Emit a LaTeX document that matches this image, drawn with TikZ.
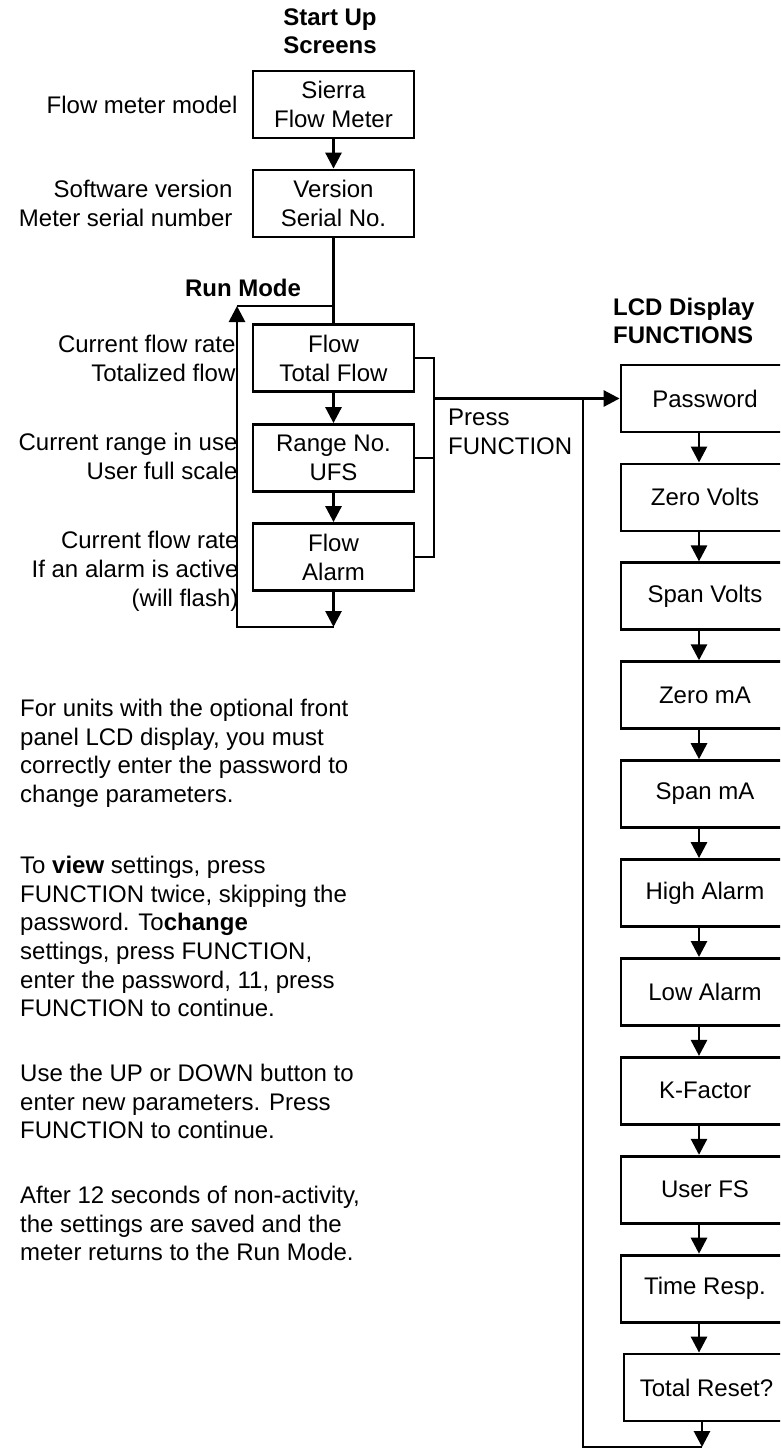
\documentclass[tikz,border=0pt]{standalone}
\usepackage{fontspec}
\setmainfont{Liberation Sans}
\usepackage{tikz}
\usetikzlibrary{positioning,arrows.meta}

\begin{document}
\begin{tikzpicture}[
    x=1pt, y=-1pt,
    every node/.style={font=\fontsize{24}{29}\selectfont},
    screenbox/.style={rectangle, draw=black, line width=2.8pt, align=center, minimum width=161pt, minimum height=67pt, inner sep=0pt},
    fnbox/.style={rectangle, draw=black, line width=2.8pt, minimum width=168pt, minimum height=67pt, inner sep=0pt},
    note/.style={align=right, inner sep=0pt},
    para/.style={align=left, anchor=north west, inner sep=0pt, font=\fontsize{24}{28.6}\selectfont},
    heading/.style={font=\fontsize{24}{28.5}\selectfont\bfseries, inner sep=0pt},
    flowline/.style={draw=black, line width=2.8pt},
    arrowline/.style={->, >={Triangle[width=16pt,length=16pt]}, draw=black, line width=2.8pt}
    ]
        \useasboundingbox (0,0) rectangle (780,1450);
        \clip (0,0) rectangle (780,1450);

        %Headings
        \node[heading, align=center] (startup) at (330,31) {Start Up\\Screens};
        \node[heading] (runmode) at (243,288) {Run Mode};
        \node[heading, align=left, anchor=west] (lcdhead) at (613,321) {LCD Display\\FUNCTIONS};

        %Start up and run mode screens
        \node[screenbox] (sierra) at (333.5,104.5) {Sierra\\Flow Meter};
        \node[screenbox, below=29.2pt of sierra] (version) {Version\\Serial No.};
        \node[screenbox] (flow) at (333.5,358) {Flow\\Total Flow};
        \node[screenbox, below=30.2pt of flow] (range) {Range No.\\UFS};
        \node[screenbox, below=29.2pt of range] (alarm) {Flow\\Alarm};

        %Notes beside the screens
        \node[note, left=14pt of sierra] (lblmodel) {Flow meter model};
        \node[note, left=19pt of version] (lblversion) {Software version\\Meter serial number};
        \node[note, left=16pt of flow] (lblflow) {Current flow rate\\Totalized flow};
        \node[note, left=14pt of range, yshift=2pt] (lblrange) {Current range in use\\User full scale};
        \node[note, left=13pt of alarm, yshift=-14pt] (lblalarm) {Current flow rate\\If an alarm is active\\(will flash)};

        \node[align=left, anchor=west, inner sep=0pt] (press) at (448,432) {Press\\FUNCTION};

        %Function screens
        \node[fnbox] (pw) at (705,398.5) {Password};
        \node[fnbox, below=29.1pt of pw] (zv) {Zero Volts};
        \node[fnbox, below=29.1pt of zv] (sv) {Span Volts};
        \node[fnbox, below=29.1pt of sv] (zma) {Zero mA};
        \node[fnbox, below=29.1pt of zma] (sma) {Span mA};
        \node[fnbox, below=29.1pt of sma] (hia) {High Alarm};
        \node[fnbox, below=29.1pt of hia] (loa) {Low Alarm};
        \node[fnbox, below=29.1pt of loa] (kf) {K-Factor};
        \node[fnbox, below=29.1pt of kf] (ufs) {User FS};
        \node[fnbox, below=29.1pt of ufs] (tr) {Time Resp.};
        \node[fnbox, minimum width=165pt, below=29.1pt of tr, xshift=1.5pt] (reset) {Total Reset?};

        %Text
        \node[para] (p1) at (20,699) {For units with the optional front\\panel LCD display, you must\\correctly enter the password to\\change parameters.};
        \node[para] (p2) at (20,856) {To \textbf{view} settings, press\\FUNCTION twice, skipping the\\password.  To\textbf{change}\\settings, press FUNCTION,\\enter the password, 11, press\\FUNCTION to continue.};
        \node[para] (p3) at (20,1064) {Use the UP or DOWN button to\\enter new parameters.  Press\\FUNCTION to continue.};
        \node[para] (p4) at (20,1186) {After 12 seconds of non-activity,\\the settings are saved and the\\meter returns to the Run Mode.};

        %Lines
        \coordinate (loopbot) at (237,627);
        \coordinate (looptop) at (237,306);
        \coordinate (brk) at (434,398.5);
        \coordinate (fnloop) at (583,1447);

        \draw[arrowline] (sierra) -- (version);
        \draw[flowline] (version) -- (flow);
        \draw[arrowline] (flow) -- (range);
        \draw[arrowline] (range) -- (alarm);

        \draw[arrowline] (alarm.south) -- (alarm.south |- loopbot);
        \draw[arrowline] (alarm.south |- loopbot) -- (loopbot) -- (looptop);
        \draw[flowline] (looptop) -- (version.south |- looptop);

        \draw[flowline] (flow.east) -| (alarm.east -| brk) -- (alarm.east);
        \draw[flowline] (range.east) -- (range.east -| brk);
        \draw[arrowline] (brk) -- (pw.west);

        \foreach \a/\b in {pw/zv, zv/sv, sv/zma, zma/sma, sma/hia, hia/loa, loa/kf, kf/ufs, ufs/tr, tr/reset}
            \draw[arrowline] ([xshift=-6pt]\a.south) -- ([xshift=-6pt]\a.south |- \b.north);

        \draw[arrowline] ([xshift=-4.5pt]reset.south) -- ([xshift=-4.5pt]reset.south |- fnloop);
        \draw[flowline] ([xshift=-4.5pt]reset.south |- fnloop) -- (fnloop) -- (fnloop |- brk);
\end{tikzpicture}
\end{document}
